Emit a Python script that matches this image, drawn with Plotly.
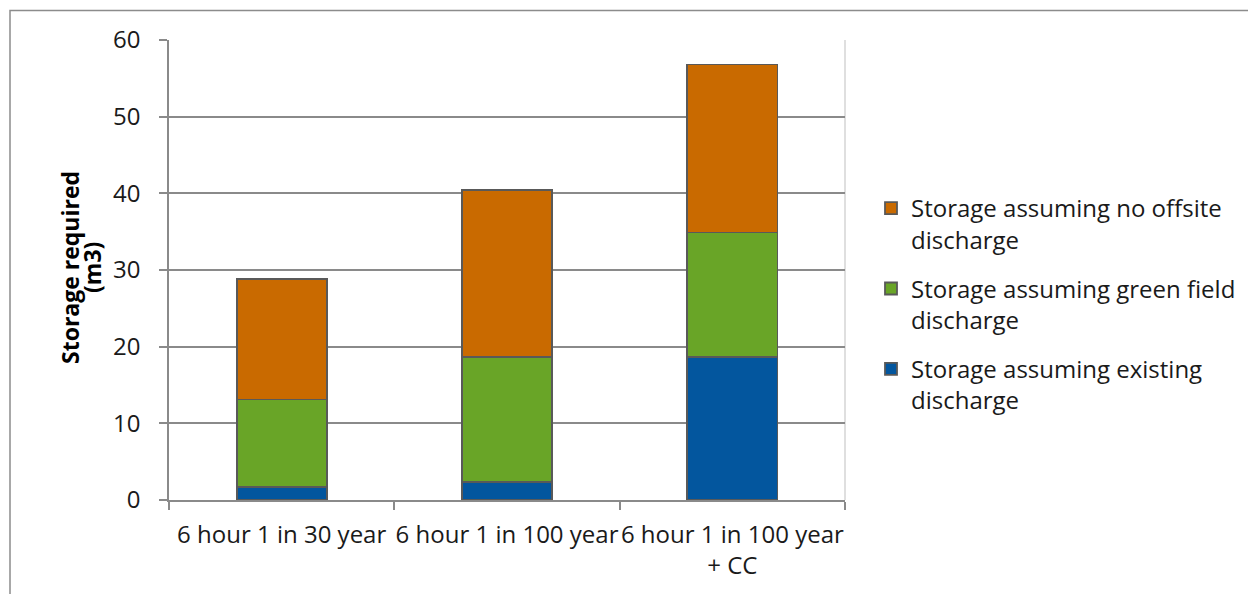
import plotly.graph_objects as go

# Design storms and the storage volume (m3) each discharge assumption needs
categories = ["6 hour 1 in 30 year", "6 hour 1 in 100 year", "6 hour 1 in 100 year<br>+ CC"]
existing_discharge = [1.7, 2.4, 18.7]
green_field_discharge = [11.4, 16.3, 16.2]
no_offsite_discharge = [15.7, 21.7, 21.9]

series_names = [
    "Storage assuming existing<br>discharge",
    "Storage assuming green field<br>discharge",
    "Storage assuming no offsite<br>discharge",
]
series_colors = ["#03569E", "#69A527", "#C96A00"]
series_values = [existing_discharge, green_field_discharge, no_offsite_discharge]
y_title_lines = ["Storage required", "(m3)"]

FONT = "Open Sans"
GRID = "#8a8a8a"

W, H = 1248, 594
M_L, M_R, M_T, M_B = 169, 403, 40, 94
PW, PH = W - M_L - M_R, H - M_T - M_B

fig = go.Figure()
for i, (name, color, vals) in enumerate(zip(series_names, series_colors, series_values)):
    fig.add_trace(go.Bar(
        x=categories, y=vals, name=name,
        marker=dict(color=color, line=dict(color="#595959", width=1.8)),
        width=0.4, legendgroup=f"g{i}",
        # top of the stack is listed first in the legend
        legendrank=len(series_names) - i,
    ))


def px_x(p):
    return (p - M_L) / PW


def px_y(p):
    return (H - M_B - p) / PH


# y-axis title as two tightly spaced rotated lines
annotations = [
    dict(text=f"<b>{line}</b>", xref="paper", yref="paper",
         x=px_x(xc), y=px_y(268), xanchor="center", yanchor="middle",
         textangle=-90, showarrow=False,
         font=dict(family=FONT, size=23, color="#000000"))
    for line, xc in zip(y_title_lines, [70, 92])
]

fig.update_layout(
    width=W, height=H,
    margin=dict(l=M_L, r=M_R, t=M_T, b=M_B, autoexpand=False),
    barmode="stack",
    plot_bgcolor="white", paper_bgcolor="white",
    font=dict(family=FONT, size=24, color="#1a1a1a"),
    showlegend=True,
    legend=dict(
        x=px_x(871), y=px_y(186), xanchor="left", yanchor="top",
        traceorder="grouped", tracegroupgap=15, valign="top",
        font=dict(family=FONT, size=24, color="#1a1a1a"),
        bgcolor="rgba(0,0,0,0)", itemclick=False,
    ),
    xaxis=dict(
        type="category", showgrid=False,
        showline=True, linecolor=GRID, linewidth=1.5,
        ticks="outside", tickson="boundaries", ticklen=8, tickcolor=GRID, tickwidth=1.5,
        ticklabelstandoff=12, tickangle=0,
    ),
    yaxis=dict(
        range=[0, 60], dtick=10, tick0=0,
        showgrid=True, gridcolor=GRID, gridwidth=1.5,
        showline=True, linecolor=GRID, linewidth=1.5,
        ticks="outside", ticklen=8, tickcolor=GRID, tickwidth=1.5,
        ticklabelstandoff=14, zeroline=False,
    ),
    annotations=annotations,
    shapes=[
        # light right edge of the plot area
        dict(type="line", xref="paper", yref="paper", x0=1, x1=1, y0=0, y1=1,
             line=dict(color="#d4d4d4", width=1.5), layer="below"),
        # chart frame
        dict(type="rect", xref="paper", yref="paper",
             x0=px_x(10), x1=px_x(1262), y0=px_y(608), y1=px_y(10.5),
             line=dict(color="#8c8c8c", width=1.5), fillcolor="rgba(0,0,0,0)", layer="below"),
    ],
)

fig.write_html("out.html")
